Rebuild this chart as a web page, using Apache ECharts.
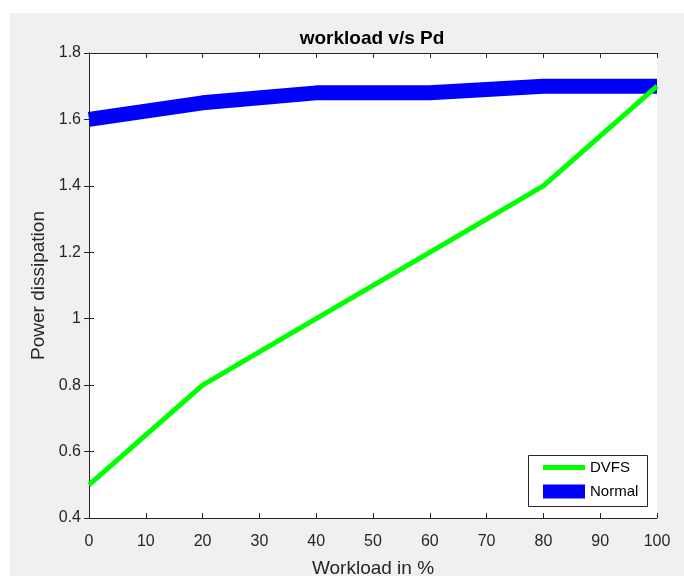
<!DOCTYPE html>
<html>
<head>
<meta charset="utf-8">
<script src="https://cdn.jsdelivr.net/npm/echarts@6/dist/echarts.min.js"></script>
<style>
  html, body { margin: 0; padding: 0; background: #fff; }
  body { width: 684px; height: 576px; position: relative; overflow: hidden; }
  #chart { position: absolute; left: 10px; top: 13px; width: 674px; height: 563px; }
</style>
</head>
<body>
<div id="chart"></div>
<script>
const workload = [0, 20, 40, 60, 80, 100];
const dvfs = [0.5, 0.8, 1.0, 1.2, 1.4, 1.7];
const normal = [1.6, 1.65, 1.68, 1.68, 1.7, 1.7];

const axisColor = "#262626";
const font = "'Liberation Sans', Arial, sans-serif";

const pairs = (xs, ys) => xs.map((x, i) => [x, ys[i]]);

const chart = echarts.init(document.getElementById("chart"));

const boxAxis = {
  axisLine: { show: true, lineStyle: { color: axisColor, width: 1 } },
  axisTick: { show: true, inside: true, length: 5, lineStyle: { color: axisColor } },
  splitLine: { show: false }
};

chart.setOption({
  backgroundColor: "#f0f0f0",
  animation: false,
  title: {
    text: "workload v/s Pd",
    left: 362,
    top: 16,
    textAlign: "center",
    padding: 0,
    textStyle: { fontFamily: font, fontSize: 19, fontWeight: "bold", color: "#000" }
  },
  grid: {
    left: 79, top: 40, right: 27, bottom: 58,
    outerBoundsMode: "none",
    containLabel: false,
    show: true, backgroundColor: "#fff", borderWidth: 0
  },
  xAxis: [
    {
      ...boxAxis,
      type: "value",
      position: "bottom",
      min: 0,
      max: 100,
      interval: 10,
      name: "Workload in %",
      nameLocation: "middle",
      nameGap: 41,
      nameTextStyle: { fontFamily: font, fontSize: 19, color: axisColor },
      axisLabel: { fontFamily: font, fontSize: 16, color: axisColor, margin: 16 }
    },
    {
      ...boxAxis,
      type: "value",
      position: "top",
      min: 0,
      max: 100,
      interval: 10,
      axisLabel: { show: false }
    }
  ],
  yAxis: [
    {
      ...boxAxis,
      type: "value",
      position: "left",
      min: 0.4,
      max: 1.8,
      interval: 0.2,
      name: "Power dissipation",
      nameLocation: "middle",
      nameGap: 35,
      nameTextStyle: { fontFamily: font, fontSize: 19, color: axisColor },
      axisLabel: {
        fontFamily: font,
        fontSize: 16,
        color: axisColor,
        margin: 8,
        formatter: v => (Math.abs(v - 1) < 1e-9 ? "1" : v.toFixed(1))
      }
    },
    {
      ...boxAxis,
      type: "value",
      position: "right",
      min: 0.4,
      max: 1.8,
      interval: 0.2,
      axisLabel: { show: false }
    }
  ],
  legend: [
    {
      data: ["DVFS"],
      left: 533,
      top: 447,
      z: 10,
      padding: 0,
      itemWidth: 42,
      itemHeight: 5,
      itemGap: 0,
      icon: "rect",
      textStyle: { fontFamily: font, fontSize: 15, color: "#000" }
    },
    {
      data: ["Normal"],
      left: 533,
      top: 471,
      z: 10,
      padding: 0,
      itemWidth: 42,
      itemHeight: 14,
      itemGap: 0,
      icon: "rect",
      textStyle: { fontFamily: font, fontSize: 15, color: "#000" }
    }
  ],
  graphic: [
    {
      type: "rect",
      left: 518,
      top: 442,
      shape: { width: 119, height: 51 },
      style: { fill: "#fff", stroke: axisColor, lineWidth: 1 },
      z: 5
    }
  ],
  series: [
    {
      name: "Normal",
      type: "line",
      data: pairs(workload, normal),
      showSymbol: false,
      symbol: "none",
      clip: false,
      z: 2,
      color: "#0000ff",
      lineStyle: { color: "#0000ff", width: 15 }
    },
    {
      name: "DVFS",
      type: "line",
      data: pairs(workload, dvfs),
      showSymbol: false,
      symbol: "none",
      clip: false,
      z: 3,
      color: "#00ff00",
      lineStyle: { color: "#00ff00", width: 5 }
    }
  ]
});
</script>
</body>
</html>
